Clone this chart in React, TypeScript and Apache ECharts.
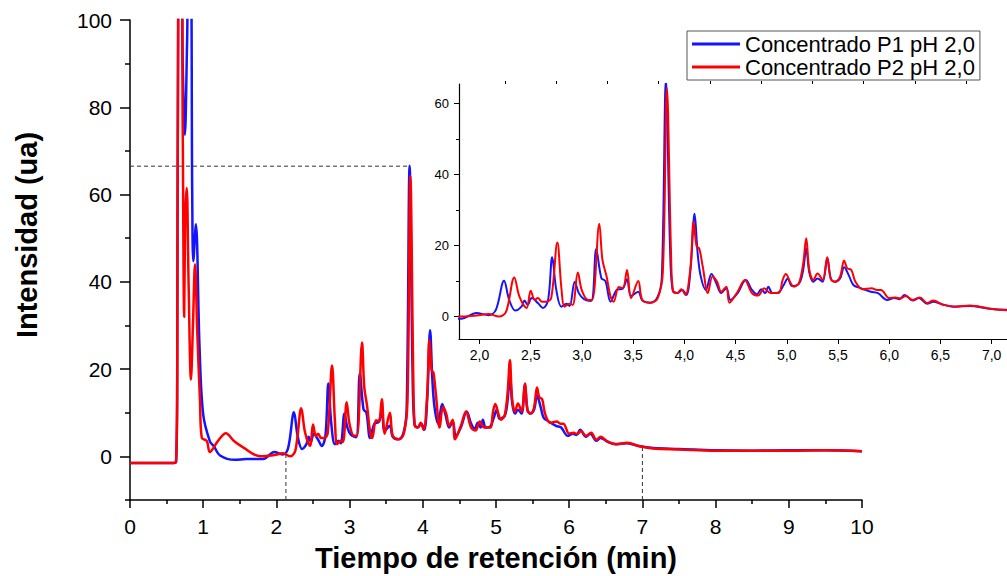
import React, { useEffect, useRef } from "react";
import * as echarts from "echarts";

// ---- Data ----
const seriesNames = ["Concentrado P1 pH 2,0", "Concentrado P2 pH 2,0"];

const timeP1 = [
  0, 0.3, 0.6, 0.63, 0.645, 0.66, 0.7, 0.72, 0.75, 0.78, 0.8, 0.83, 0.85, 0.865, 0.9, 0.95, 1.0, 1.09, 1.15, 1.23,
  1.43, 1.59, 1.82, 1.97, 2.09, 2.16, 2.24, 2.29, 2.35, 2.41, 2.44, 2.47, 2.51, 2.57, 2.62, 2.67, 2.71, 2.75, 2.8,
  2.85, 2.88, 2.93, 2.97, 3.02, 3.09, 3.14, 3.19, 3.23, 3.28, 3.34, 3.4, 3.44, 3.48, 3.55, 3.59, 3.67, 3.74, 3.78,
  3.82, 3.86, 3.885, 3.93, 3.98, 4.02, 4.06, 4.1, 4.13, 4.16, 4.21, 4.265, 4.31, 4.36, 4.41, 4.45, 4.52, 4.6, 4.66,
  4.71, 4.75, 4.79, 4.82, 4.86, 4.92, 4.97, 5.01, 5.05, 5.12, 5.16, 5.19, 5.22, 5.26, 5.3, 5.35, 5.395, 5.43, 5.47,
  5.52, 5.56, 5.61, 5.65, 5.72, 5.82, 5.89, 5.98, 6.05, 6.1, 6.15, 6.23, 6.29, 6.37, 6.43, 6.52, 6.63, 6.79, 6.96,
  7.15, 7.5, 8.0, 8.5, 9.0, 9.5, 10,
];
const intensityP1 = [
  -1.5, -1.5, -1.5, -1.2, 17, 110, 110, 90, 73.7, 95, 110, 110, 60, 44.7, 53.2, 25, 9.6, 3.5, 2.2, 0.2,
  -0.8, -0.6, -0.6, 1.0, 0.4, 1.9, 10.1, 4.7, 1.7, 2.8, 4.5, 3.3, 5.2, 3.8, 2.4, 4.7, 16.7, 7.5, 2.8,
  3.6, 3.0, 9.8, 6.6, 4.9, 4.4, 19.0, 10.8, 10.0, 4.2, 7.5, 7.9, 10.5, 5.8, 7.0, 4.5, 3.9, 5.6, 11,
  66.6, 19.7, 7.5, 6.6, 7.5, 6.1, 13.1, 28.9, 17.8, 11.3, 7.5, 12.0, 9.5, 6.6, 8.0, 4.7, 6.6, 10.3, 7.5,
  6.3, 7.7, 6.6, 8.4, 6.6, 6.8, 8.9, 10.7, 8.6, 9.3, 13.1, 19.2, 12.4, 9.8, 10.7, 9.8, 16.4, 10.7, 9.8,
  10.7, 13.9, 11.3, 8.9, 8.0, 7.0, 6.6, 4.7, 5.2, 4.9, 6.1, 4.5, 5.2, 3.6, 4.2, 3.4, 2.8, 3.0, 2.3,
  1.9, 1.7, 1.4, 1.3, 1.4, 1.4, 1.2,
];

const timeP2 = [
  0, 0.3, 0.6, 0.63, 0.645, 0.66, 0.7, 0.72, 0.74, 0.755, 0.775, 0.8, 0.833, 0.86, 0.888, 0.92, 0.956, 0.98, 1.05,
  1.09, 1.2, 1.31, 1.42, 1.55, 1.78, 1.97, 2.09, 2.19, 2.26, 2.34, 2.39, 2.46, 2.5, 2.54, 2.57, 2.61, 2.65, 2.7,
  2.76, 2.8, 2.83, 2.88, 2.91, 2.96, 3.0, 3.06, 3.1, 3.17, 3.2, 3.24, 3.28, 3.31, 3.36, 3.4, 3.44, 3.48, 3.55,
  3.59, 3.67, 3.74, 3.79, 3.83, 3.87, 3.89, 3.93, 3.97, 4.01, 4.06, 4.09, 4.12, 4.145, 4.18, 4.23, 4.275, 4.32,
  4.36, 4.41, 4.44, 4.52, 4.59, 4.66, 4.72, 4.78, 4.84, 4.92, 4.96, 4.99, 5.04, 5.07, 5.12, 5.16, 5.19, 5.22,
  5.26, 5.3, 5.35, 5.395, 5.43, 5.47, 5.52, 5.56, 5.59, 5.63, 5.67, 5.74, 5.83, 5.88, 5.92, 6.0, 6.06, 6.11,
  6.16, 6.23, 6.3, 6.37, 6.43, 6.53, 6.65, 6.79, 6.97, 7.15, 7.5, 8.0, 8.5, 9.0, 9.5, 10,
];
const intensityP2 = [
  -1.5, -1.5, -1.5, -1.0, 20, 110, 110, 75, 32, 55, 61.5, 40, 17.6, 30, 44, 28, 12.7, 4.3, 3.5,
  1.0, 3.5, 5.3, 3.5, 2.0, 0, 0.3, 0.7, 0, 1.4, 11.0, 5.6, 2.4, 7.3, 4.7, 5.2, 4.2, 4.2, 5.2,
  20.8, 7.9, 2.8, 3.6, 3.3, 12.4, 7.3, 4.7, 4.7, 26.1, 16, 11.4, 5.6, 4.2, 8.3, 8.0, 13.1, 5.2, 10.0,
  4.7, 3.9, 5.2, 12.4, 64.2, 18, 7, 6.6, 7.7, 6.1, 14, 26.7, 19.7, 19.2, 14, 6.6, 11.3, 9.8,
  7, 8.4, 3.9, 7, 10.3, 6.6, 5.9, 8, 6.6, 6.6, 10.3, 12, 9.3, 8.4, 9.5, 14.9, 22.0, 13.1,
  10.3, 12.1, 10.3, 16.7, 10.5, 9.8, 11.2, 15.8, 13.6, 13.1, 9.8, 7.7, 8.0, 7.5, 7.5, 5.2, 5.4, 5.1,
  5.8, 4.7, 5.4, 3.8, 4.5, 3.3, 2.8, 3.1, 2.3, 1.8, 1.6, 1.3, 1.3, 1.3, 1.4, 1.2,
];

// Dashed guide lines (data coordinates)
const guideTop = [[0, 66.5], [3.82, 66.5]];
const guideStart = [[2.13, -10], [2.13, 0.6]];
const guideEnd = [[7.0, -10], [7.0, 2.3]];

// Tick values
const mainYLabels = [0, 20, 40, 60, 80, 100];
const mainYMinor = [-10, 10, 30, 50, 70, 90];
const insetXLabels = [2, 2.5, 3, 3.5, 4, 4.5, 5, 5.5, 6, 6.5, 7];
const insetXMinor = [2.25, 2.75, 3.25, 3.75, 4.25, 4.75, 5.25, 5.75, 6.25, 6.75];
const insetYLabels = [0, 20, 40, 60];
const insetYMinor = [10, 30, 50];

const BLUE = "#1414ff";
const RED = "#ff0000";
const FONT = "'Liberation Sans', Arial, Helvetica, sans-serif";

export default function App() {
  const ref = useRef<HTMLDivElement>(null);

  useEffect(() => {
    if (!ref.current) return;
    const chart = echarts.init(ref.current, undefined, { renderer: "svg" });
    const d1 = timeP1.map((t, i) => [t, intensityP1[i]]);
    const d2 = timeP2.map((t, i) => [t, intensityP2[i]]);

    const axisLineStyle = { color: "#000", width: 1.5 };
    const guideStyle = { color: "#333", width: 1, type: [4, 3] as any };

    const option: any = {
      animation: false,
      backgroundColor: "#fff",
      legend: {
        data: seriesNames,
        orient: "vertical",
        left: 687,
        top: 31,
        icon: "rect",
        itemWidth: 48,
        itemHeight: 3,
        itemGap: 1,
        padding: [2, 5, 2, 5],
        borderColor: "#555",
        borderWidth: 1,
        textStyle: { fontFamily: FONT, fontSize: 22, color: "#000" },
      },
      grid: [
        {
          left: 130, top: 20, width: 732, height: 480, containLabel: false,
          outerBoundsMode: "none",
        },
        {
          left: 459, top: 84, width: 548, height: 255, show: true,
          backgroundColor: "#fff", borderWidth: 0, z: 5, outerBoundsMode: "none",
        },
      ],
      xAxis: [
        {
          gridIndex: 0, type: "value", min: 0, max: 10, interval: 1,
          axisLine: { onZero: false, lineStyle: axisLineStyle },
          axisTick: { length: 8, lineStyle: { color: "#000", width: 1.5 } },
          minorTick: { show: true, splitNumber: 2, length: 4, lineStyle: { color: "#000", width: 1.5 } },
          splitLine: { show: false },
          minorSplitLine: { show: false },
          axisLabel: { fontFamily: FONT, fontSize: 21, color: "#000", margin: 16 },
          name: "Tiempo de retención (min)",
          nameLocation: "middle",
          nameGap: 42,
          nameTextStyle: { fontFamily: FONT, fontSize: 29, fontWeight: "bold", color: "#000", lineHeight: 32 },
        },
        {
          gridIndex: 1, type: "value", min: 1.8, max: 7.15, z: 6,
          axisLine: { onZero: false, lineStyle: { color: "#000", width: 1.2 } },
          axisTick: { customValues: insetXLabels, length: 5, lineStyle: { color: "#000" } },
          axisLabel: {
            customValues: insetXLabels, fontFamily: FONT, fontSize: 14, color: "#000", margin: 9,
            formatter: (v: number) => v.toFixed(1).replace(".", ","),
          },
          splitLine: { show: false },
        },
        {
          gridIndex: 1, type: "value", min: 1.8, max: 7.15, z: 6,
          axisLine: { show: false, onZero: false },
          axisTick: { customValues: insetXMinor, length: 3, lineStyle: { color: "#000" } },
          axisLabel: { show: false },
          splitLine: { show: false },
        },
      ],
      yAxis: [
        {
          gridIndex: 0, type: "value", min: -10, max: 100,
          axisLine: { show: true, onZero: false, lineStyle: axisLineStyle },
          axisTick: { customValues: mainYLabels, length: 10, lineStyle: { color: "#000", width: 1.5 } },
          axisLabel: { customValues: mainYLabels, fontFamily: FONT, fontSize: 21, color: "#000", margin: 18 },
          splitLine: { show: false },
        },
        {
          gridIndex: 0, type: "value", min: -10, max: 100, position: "left",
          axisLine: { show: false, onZero: false },
          axisTick: { customValues: mainYMinor, length: 5, lineStyle: { color: "#000", width: 1.5 } },
          axisLabel: { show: false },
          splitLine: { show: false },
        },
        {
          gridIndex: 1, type: "value", min: -6.3, max: 65.4, z: 6,
          axisLine: { show: true, onZero: false, lineStyle: { color: "#000", width: 1.2 } },
          axisTick: { customValues: insetYLabels, length: 5, lineStyle: { color: "#000" } },
          axisLabel: { customValues: insetYLabels, fontFamily: FONT, fontSize: 13, color: "#000", margin: 10 },
          splitLine: { show: false },
        },
        {
          gridIndex: 1, type: "value", min: -6.3, max: 65.4, position: "left", z: 6,
          axisLine: { show: false, onZero: false },
          axisTick: { customValues: insetYMinor, length: 3, lineStyle: { color: "#000" } },
          axisLabel: { show: false },
          splitLine: { show: false },
        },
      ],
      graphic: [
        {
          type: "text",
          x: 27,
          y: 235,
          rotation: Math.PI / 2,
          style: {
            text: "Intensidad (ua)",
            fontFamily: FONT,
            fontSize: 29,
            fontWeight: "bold",
            fill: "#000",
            align: "center",
            verticalAlign: "middle",
          },
        },
      ],
      series: [
        {
          type: "line", data: guideTop, xAxisIndex: 0, yAxisIndex: 0, symbol: "none",
          lineStyle: guideStyle, z: 1, silent: true,
        },
        {
          type: "line", data: guideStart, xAxisIndex: 0, yAxisIndex: 0, symbol: "none",
          lineStyle: guideStyle, z: 1, silent: true,
        },
        {
          type: "line", data: guideEnd, xAxisIndex: 0, yAxisIndex: 0, symbol: "none",
          lineStyle: guideStyle, z: 1, silent: true,
        },
        {
          name: seriesNames[0], type: "line", data: d1, xAxisIndex: 0, yAxisIndex: 0,
          symbol: "none", smooth: 0.35, color: BLUE, lineStyle: { color: BLUE, width: 2.5 }, z: 2,
        },
        {
          name: seriesNames[1], type: "line", data: d2, xAxisIndex: 0, yAxisIndex: 0,
          symbol: "none", smooth: 0.35, color: RED, lineStyle: { color: RED, width: 2.5 }, z: 3,
        },
        {
          name: seriesNames[0], type: "line", data: d1, xAxisIndex: 1, yAxisIndex: 2,
          symbol: "none", smooth: 0.35, color: BLUE, lineStyle: { color: BLUE, width: 2 }, z: 7,
        },
        {
          name: seriesNames[1], type: "line", data: d2, xAxisIndex: 1, yAxisIndex: 2,
          symbol: "none", smooth: 0.35, color: RED, lineStyle: { color: RED, width: 2 }, z: 8,
        },
      ],
    };
    chart.setOption(option);
    return () => chart.dispose();
  }, []);

  return (
    <div
      ref={ref}
      style={{ position: "fixed", left: 0, top: 0, width: 1007, height: 576, background: "#fff" }}
    />
  );
}
